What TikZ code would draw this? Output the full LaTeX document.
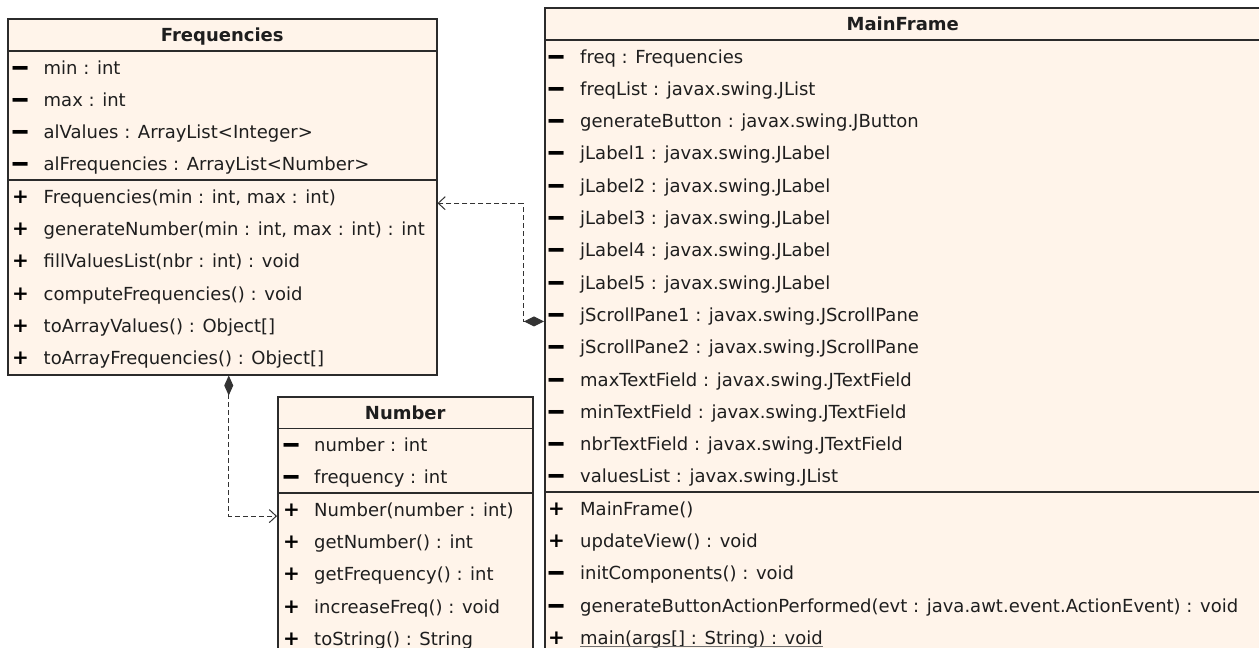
\documentclass[tikz,border=0pt]{standalone}
\usepackage{fontspec}
\setmainfont{DejaVu Sans}
\usetikzlibrary{arrows.meta, positioning, calc}

\definecolor{boxfill}{HTML}{FFF4EA}
\definecolor{boxline}{HTML}{2B2B2B}
\definecolor{txtcol}{HTML}{1E1E1E}
\definecolor{linkgray}{HTML}{333333}
\definecolor{ulgray}{HTML}{707070}

\newcommand{\umlfont}{\fontsize{18}{22}\selectfont}
\newcommand{\rowh}{32.3}
\newcommand{\priv}{\raisebox{-4pt}{\scalebox{1}[1.35]{\fontsize{24}{24}\selectfont\bfseries\char"2212}}}
\newcommand{\pub}{{\fontsize{20}{20}\selectfont\bfseries +}}
\newsavebox{\ulbox}
\newcommand{\staticop}[1]{\sbox{\ulbox}{#1}\rlap{\usebox{\ulbox}}{\color{ulgray}\rule[-2.5pt]{\wd\ulbox}{1pt}}}

\begin{document}
\begin{tikzpicture}[
  x=1pt, y=-1pt,
  classbox/.style={draw=boxline, fill=boxfill, line width=1.5pt, anchor=north west, inner sep=0pt},
  ctitle/.style={anchor=base, inner sep=0pt, font=\umlfont\bfseries, text=txtcol},
  member/.style={anchor=base west, inner sep=0pt, font=\umlfont, text=txtcol},
  sign/.style={anchor=base, inner sep=0pt, text=black},
  divider/.style={draw=boxline, line width=1.5pt},
  dep/.style={draw=linkgray, line width=1pt, dash pattern=on 5pt off 3pt}
]
\useasboundingbox (0,0) rectangle (1259,648);
\clip (0,0) rectangle (1259,648);

% Frequencies
\node[classbox, minimum width=429pt, minimum height=356pt] (fr) at (7,18) {};
\node[ctitle] (fr-t) at ($(fr.north)+(0,23.5)$) {Frequencies};
\coordinate (fr-d1) at ($(fr.north west)+(0,33)$);
\coordinate (fr-d2) at ($(fr-d1)+(0,4*\rowh)$);
\draw[divider] (fr-d1) -- (fr-d1 -| fr.east);
\draw[divider] (fr-d2) -- (fr-d2 -| fr.east);
\foreach \vis/\txt [count=\i, evaluate=\i as \yy using 23+(\i-1)*\rowh] in {\priv/{min : int}, \priv/{max : int},
    \priv/{alValues : ArrayList<Integer>}, \priv/{alFrequencies : ArrayList<Number>}} {
  \node[sign] (fr-as\i) at ($(fr-d1)+(13.5,\yy)$) {\vis};
  \node[member] (fr-a\i) at ($(fr-d1)+(36.5,\yy)$) {\txt};
}
\foreach \vis/\txt [count=\i, evaluate=\i as \yy using 23+(\i-1)*\rowh] in {\pub/{Frequencies(min : int, max : int)},
    \pub/{generateNumber(min : int, max : int) : int}, \pub/{fillValuesList(nbr : int) : void},
    \pub/{computeFrequencies() : void}, \pub/{toArrayValues() : Object[]},
    \pub/{toArrayFrequencies() : Object[]}} {
  \node[sign] (fr-ms\i) at ($(fr-d2)+(13.5,\yy)$) {\vis};
  \node[member] (fr-m\i) at ($(fr-d2)+(36.5,\yy)$) {\txt};
}

% Number
\node[classbox, minimum width=255pt, minimum height=260pt] (nb) at (277,396) {};
\node[ctitle] (nb-t) at ($(nb.north)+(0,23.5)$) {Number};
\coordinate (nb-d1) at ($(nb.north west)+(0,32.5)$);
\coordinate (nb-d2) at ($(nb-d1)+(0,2*\rowh)$);
\draw[divider] (nb-d1) -- (nb-d1 -| nb.east);
\draw[divider] (nb-d2) -- (nb-d2 -| nb.east);
\foreach \vis/\txt [count=\i, evaluate=\i as \yy using 23+(\i-1)*\rowh] in {\priv/{number : int}, \priv/{frequency : int}} {
  \node[sign] (nb-as\i) at ($(nb-d1)+(14.5,\yy)$) {\vis};
  \node[member] (nb-a\i) at ($(nb-d1)+(37,\yy)$) {\txt};
}
\foreach \vis/\txt [count=\i, evaluate=\i as \yy using 23+(\i-1)*\rowh] in {\pub/{Number(number : int)}, \pub/{getNumber() : int},
    \pub/{getFrequency() : int}, \pub/{increaseFreq() : void}, \pub/{toString() : String}} {
  \node[sign] (nb-ms\i) at ($(nb-d2)+(14.5,\yy)$) {\vis};
  \node[member] (nb-m\i) at ($(nb-d2)+(37,\yy)$) {\txt};
}

% MainFrame
\node[classbox, minimum width=716pt, minimum height=650pt] (mf) at (544,7) {};
\node[ctitle] (mf-t) at ($(mf.north)+(0,23.5)$) {MainFrame};
\coordinate (mf-d1) at ($(mf.north west)+(0,33)$);
\coordinate (mf-d2) at ($(mf-d1)+(0,14*\rowh)$);
\draw[divider] (mf-d1) -- (mf-d1 -| mf.east);
\draw[divider] (mf-d2) -- (mf-d2 -| mf.east);
\foreach \vis/\txt [count=\i, evaluate=\i as \yy using 23+(\i-1)*\rowh] in {\priv/{freq : Frequencies}, \priv/{freqList : javax.swing.JList},
    \priv/{generateButton : javax.swing.JButton}, \priv/{jLabel1 : javax.swing.JLabel},
    \priv/{jLabel2 : javax.swing.JLabel}, \priv/{jLabel3 : javax.swing.JLabel},
    \priv/{jLabel4 : javax.swing.JLabel}, \priv/{jLabel5 : javax.swing.JLabel},
    \priv/{jScrollPane1 : javax.swing.JScrollPane}, \priv/{jScrollPane2 : javax.swing.JScrollPane},
    \priv/{maxTextField : javax.swing.JTextField}, \priv/{minTextField : javax.swing.JTextField},
    \priv/{nbrTextField : javax.swing.JTextField}, \priv/{valuesList : javax.swing.JList}} {
  \node[sign] (mf-as\i) at ($(mf-d1)+(12.5,\yy)$) {\vis};
  \node[member] (mf-a\i) at ($(mf-d1)+(36,\yy)$) {\txt};
}
\foreach \vis/\txt [count=\i, evaluate=\i as \yy using 23+(\i-1)*\rowh] in {\pub/{MainFrame()}, \pub/{updateView() : void},
    \priv/{initComponents() : void},
    \priv/{generateButtonActionPerformed(evt : java.awt.event.ActionEvent) : void},
    \pub/{\staticop{main(args[] : String) : void}}} {
  \node[sign] (mf-ms\i) at ($(mf-d2)+(12.5,\yy)$) {\vis};
  \node[member] (mf-m\i) at ($(mf-d2)+(36,\yy)$) {\txt};
}

% links
\coordinate (fr-own) at ($(fr.south)+(6.5,0)$);
\draw[dep, {Diamond[length=20pt, width=10pt]}-{Straight Barb[length=7pt, width=13pt]}]
  (mf.west |- mf-a9.base) -- ++(-21,0) |- (fr.east |- fr-m1.base);
\draw[dep, {Diamond[length=20pt, width=9pt]}-{Straight Barb[length=7pt, width=13pt]}]
  (fr-own) |- (nb.west |- nb-m1.base);
\end{tikzpicture}
\end{document}
